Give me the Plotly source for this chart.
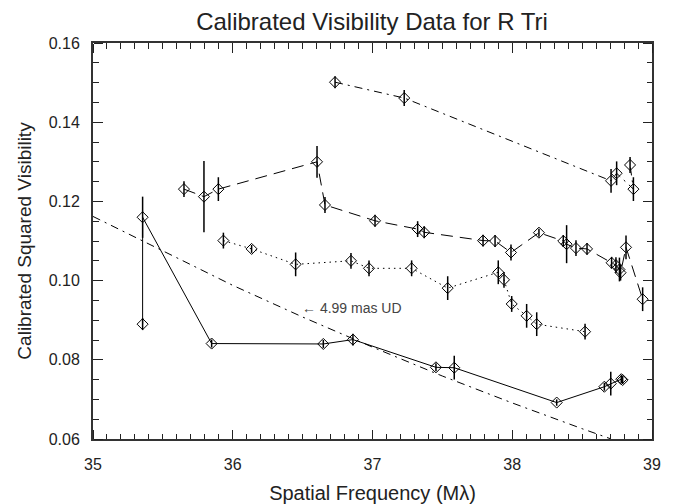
import plotly.graph_objects as go

# Solid series
solid_x = [35.355, 35.355, 35.849, 36.648, 36.860, 37.454, 37.585, 38.318, 38.659, 38.705, 38.780, 38.790]
solid_y = [0.0890, 0.1160, 0.0841, 0.0840, 0.0851, 0.0781, 0.0780, 0.0692, 0.0732, 0.0740, 0.0751, 0.0749]
solid_e = [0.0015, 0.0052, 0.0010, 0.0010, 0.0015, 0.0010, 0.0030, 0.0008, 0.0010, 0.0030, 0.0010, 0.0010]

# Dashed series
dash_x = [35.651, 35.794, 35.897, 36.603, 36.660, 37.018, 37.323, 37.370, 37.791, 37.877, 37.991,
          38.191, 38.365, 38.389, 38.456, 38.535, 38.711, 38.742, 38.767, 38.775, 38.814, 38.933]
dash_y = [0.1231, 0.1212, 0.1231, 0.1300, 0.1191, 0.1151, 0.1130, 0.1122, 0.1101, 0.1100, 0.1071,
          0.1121, 0.1100, 0.1092, 0.1082, 0.1080, 0.1045, 0.1039, 0.1028, 0.1020, 0.1084, 0.0953]
dash_e = [0.0020, 0.0090, 0.0030, 0.0040, 0.0020, 0.0015, 0.0020, 0.0015, 0.0015, 0.0015, 0.0020,
          0.0010, 0.0015, 0.0048, 0.0020, 0.0015, 0.0015, 0.0020, 0.0030, 0.0020, 0.0030, 0.0030]

# Dotted series
dot_x = [35.933, 36.135, 36.450, 36.846, 36.975, 37.280, 37.538, 37.900, 37.941, 37.996, 38.103, 38.175, 38.521]
dot_y = [0.1101, 0.1080, 0.1041, 0.1050, 0.1031, 0.1031, 0.0981, 0.1021, 0.1002, 0.0941, 0.0911, 0.0890, 0.0871]
dot_e = [0.0020, 0.0010, 0.0030, 0.0020, 0.0020, 0.0020, 0.0030, 0.0030, 0.0020, 0.0020, 0.0030, 0.0030, 0.0020]

# Dash-dot series
dd_x = [36.732, 37.227, 38.707, 38.747, 38.867, 38.843]
dd_y = [0.1501, 0.1461, 0.1252, 0.1271, 0.1231, 0.1292]
dd_e = [0.0015, 0.0020, 0.0030, 0.0030, 0.0030, 0.0020]

# 4.99 mas uniform-disk model curve
ud_x = [35.0, 35.5, 36.0, 36.5, 37.0, 37.5, 38.0, 38.5, 38.7]
ud_y = [0.1162, 0.1075, 0.0988, 0.0908, 0.0832, 0.0759, 0.0691, 0.0626, 0.0601]

X_RANGE = [35, 39]
Y_RANGE = [0.06, 0.16]
X_MAJOR, X_MINOR = 1.0, 0.1
Y_MAJOR, Y_MINOR = 0.02, 0.005

FONT = "Liberation Sans, Arial, Helvetica, sans-serif"
TXT = "#222222"
AX = "#222222"

fig = go.Figure()

# model curve on the label axes (same ranges)
fig.add_trace(go.Scatter(x=ud_x, y=ud_y, mode="lines", xaxis="x2", yaxis="y2",
                         line=dict(color="black", width=1, dash="8px,5px,2px,5px"),
                         showlegend=False, hoverinfo="skip"))

def add_series(xs, ys, es, dash):
    fig.add_trace(go.Scatter(
        x=xs, y=ys, mode="lines+markers",
        line=dict(color="black", width=1, dash=dash),
        marker=dict(symbol="diamond-open", size=8.5, color="black", line=dict(width=1, color="black")),
        error_y=dict(type="data", array=es, visible=True, color="black", thickness=1.5, width=0),
        showlegend=False))

add_series(solid_x, solid_y, solid_e, "solid")
add_series(dash_x, dash_y, dash_e, "12px,7px")
add_series(dot_x, dot_y, dot_e, "1.5px,4px")
add_series(dd_x, dd_y, dd_e, "8px,5px,2px,5px")

fig.add_annotation(x=36.48, y=0.0931, xref="x", yref="y", text="\u2190 4.99 mas UD",
                   showarrow=False, xanchor="left", yanchor="middle",
                   font=dict(family=FONT, size=14, color="#444444"))

label_common = dict(
    ticks="outside", tickcolor="rgba(0,0,0,0)", tickwidth=1,
    showline=False, showgrid=False, zeroline=False, automargin=False,
    tickfont=dict(family=FONT, size=16, color=TXT),
)

layout_axes = dict(
    xaxis=dict(range=X_RANGE, showline=True, linecolor="#333333", linewidth=1.5, mirror="allticks",
               tickmode="linear", tick0=35, dtick=X_MAJOR, ticks="inside", ticklen=9, tickwidth=1, tickcolor=AX,
               minor=dict(ticks="inside", ticklen=5, tickwidth=1, tickcolor=AX, dtick=X_MINOR, tick0=35, showgrid=False),
               showticklabels=False, showgrid=False, zeroline=False, automargin=False),
    yaxis=dict(range=Y_RANGE, showline=True, linecolor="#333333", linewidth=1.5, mirror="allticks",
               tickmode="linear", tick0=0.06, dtick=Y_MAJOR, ticks="inside", ticklen=9, tickwidth=1, tickcolor=AX,
               minor=dict(ticks="inside", ticklen=5, tickwidth=1, tickcolor=AX, dtick=Y_MINOR, tick0=0.06, showgrid=False),
               showticklabels=False, showgrid=False, zeroline=False, automargin=False),
    xaxis2=dict(range=X_RANGE, overlaying="x", anchor="y2", side="bottom",
                tickmode="linear", tick0=35, dtick=X_MAJOR, ticklen=11,
                title=dict(text="Spatial Frequency (M\u03bb)", font=dict(family=FONT, size=20, color=TXT), standoff=14),
                **label_common),
    yaxis2=dict(range=Y_RANGE, overlaying="y", anchor="x2", side="left",
                tickmode="linear", tick0=0.06, dtick=Y_MAJOR, tickformat=".2f", ticklen=9,
                title=dict(text="Calibrated Squared Visibility", font=dict(family=FONT, size=19, color=TXT), standoff=12),
                **label_common),
)

# tick-only axes: outside ticks on a free axis placed at the opposite edge point into the plot
tick_specs = [  # (x side, x position, y side, y position, x dtick, y dtick, length)
    ("top", 0, "right", 0, X_MINOR, Y_MINOR, 5),
    ("top", 0, "right", 0, X_MAJOR, Y_MAJOR, 9),
    ("bottom", 1, "left", 1, X_MINOR, Y_MINOR, 5),
    ("bottom", 1, "left", 1, X_MAJOR, Y_MAJOR, 9),
]
for i, (xs, xp, ys, yp, xd, yd, ln) in enumerate(tick_specs):
    n = i + 3
    layout_axes[f"xaxis{n}"] = dict(range=X_RANGE, overlaying="x", anchor="free", position=xp, side=xs,
                                    tickmode="linear", tick0=35, dtick=xd, ticks="outside", ticklen=ln,
                                    tickwidth=1, tickcolor=AX, showticklabels=False, showline=False,
                                    showgrid=False, zeroline=False, automargin=False)
    layout_axes[f"yaxis{n}"] = dict(range=Y_RANGE, overlaying="y", anchor="free", position=yp, side=ys,
                                    tickmode="linear", tick0=0.06, dtick=yd, ticks="outside", ticklen=ln,
                                    tickwidth=1, tickcolor=AX, showticklabels=False, showline=False,
                                    showgrid=False, zeroline=False, automargin=False)
    # invisible carrier trace so each tick-axis pair gets its own subplot
    fig.add_trace(go.Scatter(x=ud_x, y=ud_y, mode="lines", xaxis=f"x{n}", yaxis=f"y{n}",
                             line=dict(color="rgba(0,0,0,0)", width=0), opacity=0,
                             showlegend=False, hoverinfo="skip"))

fig.update_layout(
    template="none",
    width=668, height=496,
    margin=dict(l=85, r=24, t=35, b=65),
    paper_bgcolor="white", plot_bgcolor="rgba(0,0,0,0)",
    title=dict(text="Calibrated Visibility Data for R Tri", x=(372 - 8) / 668, xanchor="center",
               y=1 - 14 / 496, yanchor="middle", yref="container",
               font=dict(family=FONT, size=24, color=TXT)),
    **layout_axes,
)

fig.write_html("out.html")
